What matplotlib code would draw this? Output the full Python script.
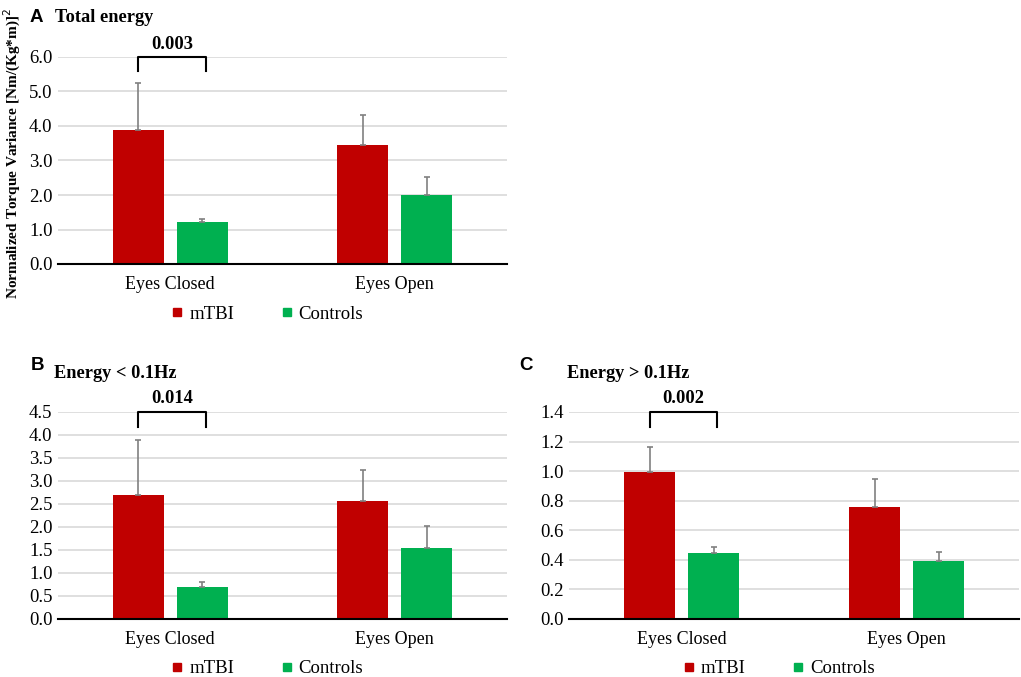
"""Torque variance bars (mTBI vs controls) for three energy bands."""

import matplotlib

matplotlib.use("Agg")
import matplotlib.pyplot as plt
import numpy as np
from matplotlib.lines import Line2D

conditions = ["Eyes Closed", "Eyes Open"]
groups = ["mTBI", "Controls"]

total_mtbi = [3.87, 3.46]
total_mtbi_err = [1.39, 0.87]
total_ctrl = [1.21, 2.01]
total_ctrl_err = [0.09, 0.52]

low_mtbi = [2.69, 2.57]
low_mtbi_err = [1.19, 0.66]
low_ctrl = [0.68, 1.55]
low_ctrl_err = [0.11, 0.47]

high_mtbi = [0.996, 0.759]
high_mtbi_err = [0.167, 0.185]
high_ctrl = [0.445, 0.390]
high_ctrl_err = [0.043, 0.060]

panels = [
    dict(letter="A", title="Total energy", mtbi=total_mtbi, mtbi_err=total_mtbi_err,
         ctrl=total_ctrl, ctrl_err=total_ctrl_err, ymax=6.0, step=1.0,
         p="0.003", br_low=5.58, p_y=6.35),
    dict(letter="B", title="Energy < 0.1Hz", mtbi=low_mtbi, mtbi_err=low_mtbi_err,
         ctrl=low_ctrl, ctrl_err=low_ctrl_err, ymax=4.5, step=0.5,
         p="0.014", br_low=4.18, p_y=4.79),
    dict(letter="C", title="Energy > 0.1Hz", mtbi=high_mtbi, mtbi_err=high_mtbi_err,
         ctrl=high_ctrl, ctrl_err=high_ctrl_err, ymax=1.4, step=0.2,
         p="0.002", br_low=1.30, p_y=1.49),
]

RED = "#C00000"
GREEN = "#00B050"
ERR = "#808080"
SERIF = "Liberation Serif"
SANS = "Liberation Sans"

W, H = 1021, 677
fig = plt.figure(figsize=(W / 100, H / 100), dpi=100)

# axes rectangles in pixels: left, top, right, bottom
rects = [(58, 57, 507, 264), (58, 412, 507, 618.7), (569.3, 412, 1019, 618.7)]
letter_pos = [(30, 17), (31, 366), (519, 366)]
title_pos = [(55, 18), (54, 373), (567, 373)]

x = np.arange(len(conditions))
off = 0.1425
bw = 0.227

for cfg, (l, t, r, b), lp, tp in zip(panels, rects, letter_pos, title_pos):
    ax = fig.add_axes([l / W, 1 - b / H, (r - l) / W, (b - t) / H])
    ax.bar(x - off, cfg["mtbi"], bw, color=RED, zorder=3)
    ax.bar(x + off, cfg["ctrl"], bw, color=GREEN, zorder=3)
    ax.errorbar(x - off, cfg["mtbi"], yerr=[np.zeros(2), cfg["mtbi_err"]], fmt="none",
                ecolor=ERR, elinewidth=1.2, capsize=2.3, capthick=1.2, zorder=4)
    ax.errorbar(x + off, cfg["ctrl"], yerr=[np.zeros(2), cfg["ctrl_err"]], fmt="none",
                ecolor=ERR, elinewidth=1.2, capsize=2.3, capthick=1.2, zorder=4)

    ax.set_xlim(-0.5, 1.5)
    ax.set_ylim(0, cfg["ymax"])
    ticks = np.arange(0, cfg["ymax"] + cfg["step"] / 2, cfg["step"])
    ax.set_yticks(ticks)
    ax.set_yticklabels([f"{v:.1f}" for v in ticks], fontfamily=SERIF, fontsize=13.5)
    ax.set_xticks(x)
    ax.set_xticklabels(conditions, fontfamily=SERIF, fontsize=13)
    ax.tick_params(axis="both", length=0)
    ax.tick_params(axis="y", pad=4)
    ax.tick_params(axis="x", pad=8.5)
    ax.grid(axis="y", color="#d9d9d9", linewidth=1.2, zorder=0)
    for side in ["top", "right", "left"]:
        ax.spines[side].set_visible(False)
    ax.spines["bottom"].set_color("black")
    ax.spines["bottom"].set_linewidth(1.5)
    ax.spines["bottom"].set_zorder(5)

    # significance bracket
    x0, x1 = -off, off + 0.015
    top = cfg["ymax"]
    ax.plot([x0, x0, x1, x1], [cfg["br_low"], top, top, cfg["br_low"]], color="black",
            linewidth=1.5, clip_on=False, zorder=6)
    ax.text((x0 + x1) / 2, cfg["p_y"], cfg["p"], ha="center", va="center",
            fontfamily=SERIF, fontweight="bold", fontsize=13.3, clip_on=False)

    fig.text(lp[0] / W, 1 - lp[1] / H, cfg["letter"], ha="left", va="center",
             fontfamily=SANS, fontweight="bold", fontsize=13.5)
    fig.text(tp[0] / W, 1 - tp[1] / H, cfg["title"], ha="left", va="center",
             fontfamily=SERIF, fontweight="bold", fontsize=13.2)

    handles = [Line2D([], [], marker="s", linestyle="none", markersize=5.5,
                      color=c) for c in (RED, GREEN)]
    ax.legend(handles, groups, loc="center", bbox_to_anchor=(0.462, -0.242), ncol=2,
              frameon=False, prop=dict(family=SERIF, size=13.5), handletextpad=0.15,
              columnspacing=2.3, handlelength=1.0)

fig.text(12 / W, 1 - 153 / H, "Normalized Torque Variance [Nm/(Kg*m)]$^2$", rotation=90,
         ha="center", va="center", fontfamily=SERIF, fontweight="bold", fontsize=11)

fig.savefig("out.png", dpi=100)
